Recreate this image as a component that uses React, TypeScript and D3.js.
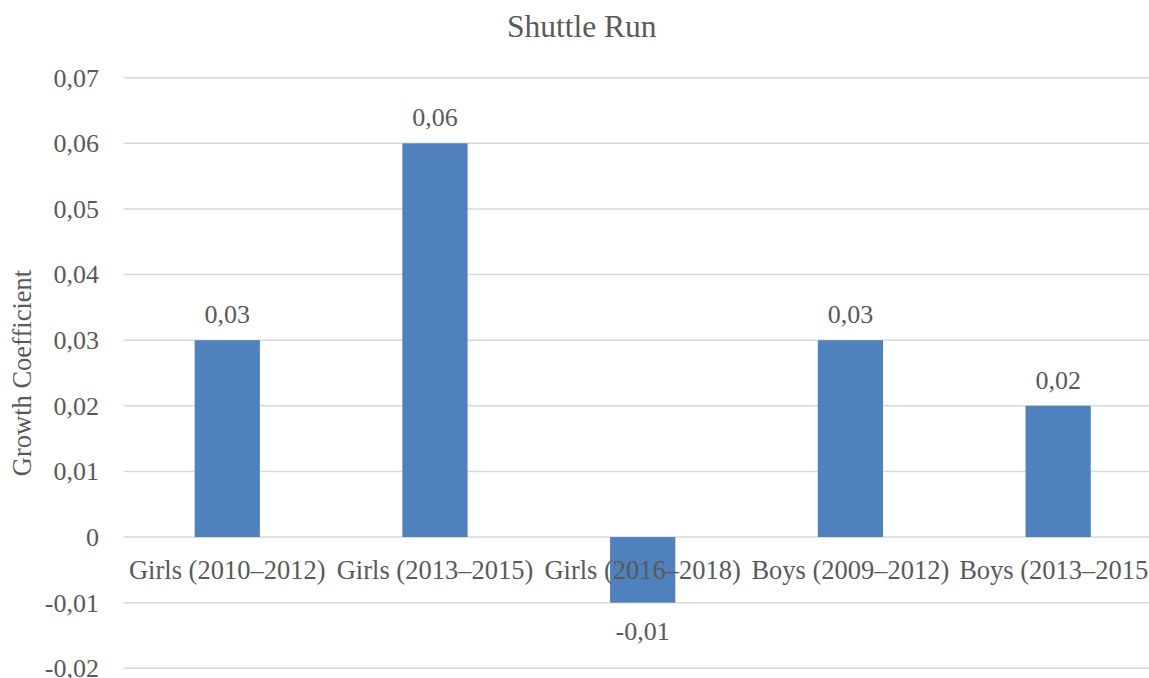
import * as d3 from "d3"

const categories = [
  "Girls (2010–2012)",
  "Girls (2013–2015)",
  "Girls (2016–2018)",
  "Boys (2009–2012)",
  "Boys (2013–2015)",
]
const values = [0.03, 0.06, -0.01, 0.03, 0.02]
const yTicks = [-0.02, -0.01, 0, 0.01, 0.02, 0.03, 0.04, 0.05, 0.06, 0.07]

const W = 1149
const H = 678
const FONT = "'Liberation Serif', 'Times New Roman', Times, serif"
const TEXT = "#595959"
const GRID = "#d9d9d9"
const BAR = "#4f81bd"

const locale = d3.formatLocale({
  decimal: ",",
  thousands: ".",
  grouping: [3],
  currency: ["", ""],
  minus: "-",
})
const fmt = (v: number) => (v === 0 ? "0" : locale.format(".2f")(v))

export default function App() {
  const x = d3
    .scaleBand<string>()
    .domain(categories)
    .range([123.4, 1162])
    .paddingInner(0.686)
    .paddingOuter(0.343)
  const y = d3.scaleLinear().domain([-0.02, 0.07]).range([668.3, 77.7])

  return (
    <svg
      width={W}
      height={H}
      viewBox={`0 0 ${W} ${H}`}
      style={{ position: "absolute", left: 0, top: 0, fontFamily: FONT }}
    >
      <rect width={W} height={H} fill="#fff" />

      {/* gridlines + y tick labels */}
      <g>
        {yTicks.map((t) => (
          <g key={t}>
            <line
              x1={123.4}
              x2={W}
              y1={y(t)}
              y2={y(t)}
              stroke={GRID}
              strokeWidth={1.4}
            />
            <text
              x={99}
              y={y(t)}
              dy="0.34em"
              textAnchor="end"
              fontSize={26}
              fill={TEXT}
            >
              {fmt(t)}
            </text>
          </g>
        ))}
      </g>

      {/* bars */}
      <g>
        {values.map((v, i) => (
          <rect
            key={categories[i]}
            x={x(categories[i])}
            y={Math.min(y(v), y(0))}
            width={x.bandwidth()}
            height={Math.abs(y(v) - y(0))}
            fill={BAR}
          />
        ))}
      </g>

      {/* category labels, sitting just under the zero line */}
      <g>
        {categories.map((c) => (
          <text
            key={c}
            x={(x(c) ?? 0) + x.bandwidth() / 2}
            y={y(0) + 42}
            textAnchor="middle"
            fontSize={26.5}
            fill={TEXT}
          >
            {c}
          </text>
        ))}
      </g>

      {/* value labels */}
      <g>
        {values.map((v, i) => (
          <text
            key={categories[i]}
            x={(x(categories[i]) ?? 0) + x.bandwidth() / 2}
            y={v >= 0 ? y(v) - 17 : y(v) + 37.7}
            textAnchor="middle"
            fontSize={26}
            fill={TEXT}
          >
            {fmt(v)}
          </text>
        ))}
      </g>

      <text
        x={581.7}
        y={37.3}
        textAnchor="middle"
        fontSize={31.5}
        fill={TEXT}
      >
        Shuttle Run
      </text>

      <text
        transform={`translate(31, 373) rotate(-90)`}
        textAnchor="middle"
        fontSize={26.5}
        fill={TEXT}
      >
        Growth Coefficient
      </text>
    </svg>
  )
}
